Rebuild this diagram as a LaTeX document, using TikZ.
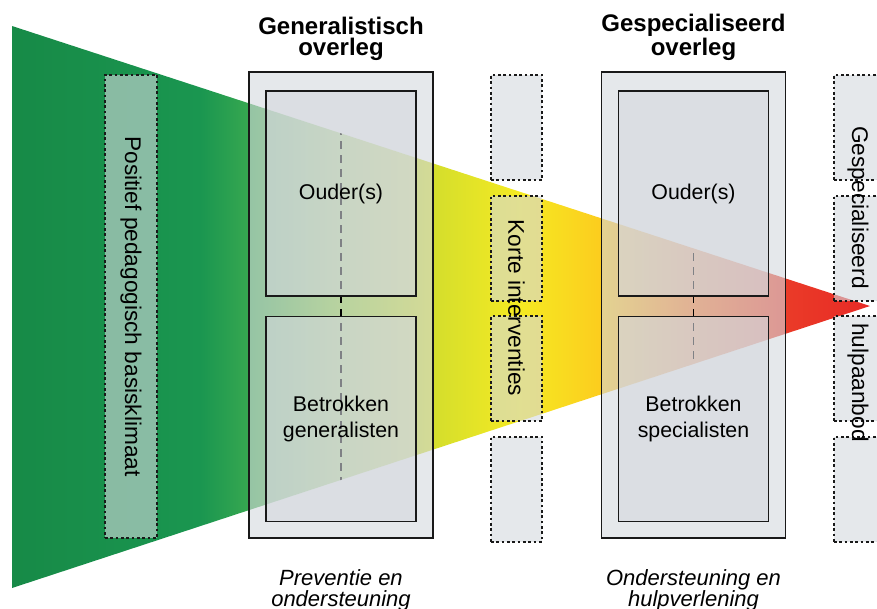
\documentclass[tikz,border=0pt]{standalone}
\usepackage{fontspec}
\setmainfont{Liberation Sans}
\usetikzlibrary{positioning}
\usepackage{xcolor}
\definecolor{boxgray}{RGB}{212,216,222}
\definecolor{mygreen}{RGB}{23,138,71}
\definecolor{mygreenb}{RGB}{26,150,80}
\definecolor{mygreenc}{RGB}{52,166,80}
\definecolor{mylime}{RGB}{145,205,67}
\definecolor{mylimeb}{RGB}{212,222,44}
\definecolor{myyellow}{RGB}{245,234,34}
\definecolor{myamber}{RGB}{252,205,30}
\definecolor{myorange}{RGB}{245,120,40}
\definecolor{myredb}{RGB}{234,60,40}
\definecolor{myred}{RGB}{232,42,38}
\pgfdeclarehorizontalshading{funnel}{100bp}{color(0bp)=(mygreen); color(25bp)=(mygreen);
  color(35.96bp)=(mygreenb); color(38.58bp)=(mygreenc); color(44.11bp)=(mylime);
  color(49.48bp)=(mylimeb); color(54.6bp)=(myyellow); color(59.27bp)=(myamber);
  color(64.69bp)=(myorange); color(69.76bp)=(myredb); color(75bp)=(myred); color(100bp)=(myred)}
\tikzset{
  outerbox/.style={draw=black!90,line width=1.4pt,fill=boxgray,fill opacity=0.6,text opacity=1,inner sep=0pt,minimum width=138pt,minimum height=349.5pt},
  innerbox/.style={draw=black!90,line width=1.4pt,fill=boxgray,fill opacity=0.6,text opacity=1,inner sep=0pt,minimum width=112.5pt,minimum height=153.75pt,align=center,font=\fontsize{16}{19.5}\selectfont},
  dotbox/.style={draw=black!90,line width=1.5pt,dash pattern=on 2pt off 2pt,fill=boxgray,fill opacity=0.6,inner sep=0pt,minimum width=38.25pt,minimum height=#1},
}
\begin{document}
\begin{tikzpicture}[x=0.75pt,y=-0.75pt,
    title/.style={font=\fontsize{18}{15.5}\selectfont\bfseries,align=center},
    caption/.style={font=\fontsize{16.5}{15.75}\selectfont\itshape,align=center},
    vtext/.style={font=\fontsize{17}{20}\selectfont,rotate=-90},
    midline/.style={black,line width=0.8pt,dash pattern=on 6pt off 4.5pt},
  ]
    \useasboundingbox (0,0) rectangle (877,608);

    %────────── FUNNEL ───────────────
    \coordinate (ftop) at (12,26);
    \coordinate (ftip) at (870,306);
    \coordinate (fbot) at (12,588);
    \shade[shading=funnel] (ftop) -- (ftip) -- (fbot) -- cycle;

    %────────── BASISKLIMAAT ─────────
    \node[dotbox=347.25pt,minimum width=39pt] (basis) at (131,306.5) {};
    \node[vtext] (basistxt) at (basis.center) {Positief pedagogisch basisklimaat};

    %────────── GENERALISTISCH ───────
    \node[outerbox] (gen) at (341,305) {};
    \node[title,above=4.5pt of gen] (gentitle) {Generalistisch\\overleg};
    \begin{scope}
      \clip (ftop) -- (ftip) -- (fbot) -- cycle;
      \draw[midline] (gen.north) -- (gen.south);
    \end{scope}
    \node[innerbox] (genouder) at (341,193.5) {Ouder(s)};
    \node[innerbox] (genbetr) at (341,419) {Betrokken\\generalisten};
    \node[caption,below=19.5pt of gen] (gencap) {Preventie en\\ondersteuning};

    %────────── KORTE INTERVENTIES ───
    \foreach \y [count=\i] in {127.5,248,368.5,489}
      \node[dotbox=78.75pt] (kort\i) at (516.5,\y) {};
    \node[vtext] (korttxt) at (516.5,308) {Korte interventies};

    %────────── GESPECIALISEERD ──────
    \node[outerbox] (spec) at (693.5,305) {};
    \node[title,above=4.5pt of spec] (spectitle) {Gespecialiseerd\\overleg};
    \begin{scope}
      \clip (ftop) -- (ftip) -- (fbot) -- cycle;
      \draw[midline] (spec.north) -- (spec.south);
    \end{scope}
    \node[innerbox] (specouder) at (693.5,193.5) {Ouder(s)};
    \node[innerbox] (specbetr) at (693.5,419) {Betrokken\\specialisten};
    \node[caption,below=19.5pt of spec] (speccap) {Ondersteuning en\\hulpverlening};

    %────────── HULPAANBOD ───────────
    \foreach \y [count=\i] in {127.5,248,368.5,489}
      \node[dotbox=78.75pt] (hulp\i) at (859.5,\y) {};
    \node[vtext] (hulptxta) at (858,207.5) {Gespecialiseerd};
    \node[vtext] (hulptxtb) at (858,382.5) {hulpaanbod};
  \end{tikzpicture}
\end{document}
